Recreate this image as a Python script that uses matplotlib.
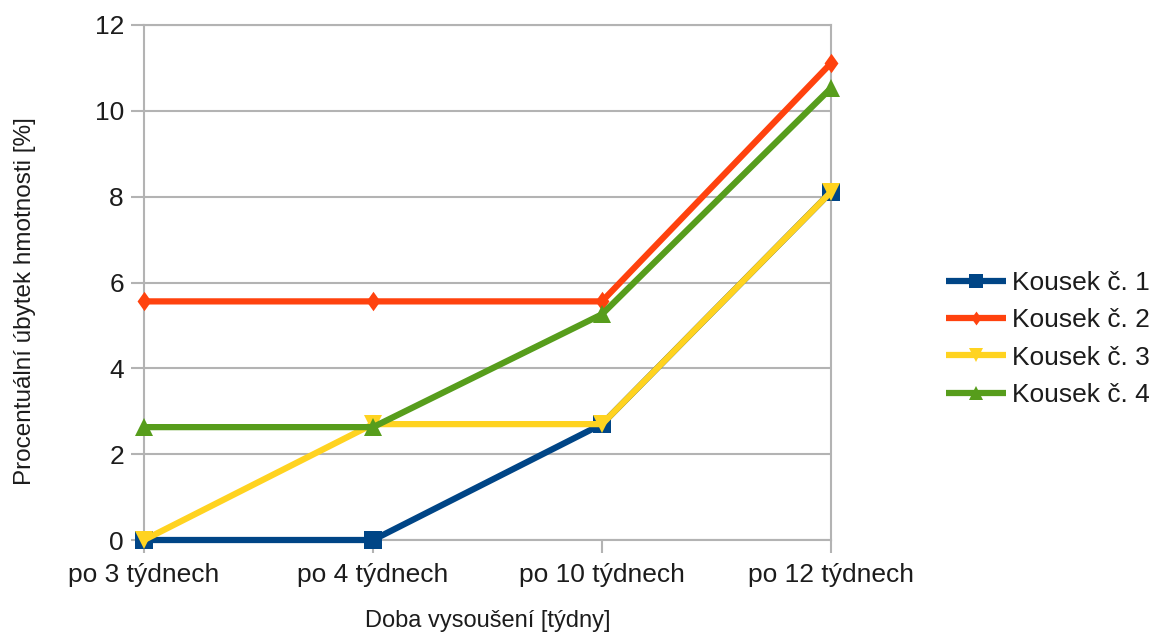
import matplotlib
matplotlib.use("Agg")
import matplotlib.pyplot as plt
import numpy as np

plt.rcParams['font.family'] = ['Liberation Sans', 'DejaVu Sans']

categories = ["po 3 týdnech", "po 4 týdnech", "po 10 týdnech", "po 12 týdnech"]
kousek_1 = [0.0, 0.0, 2.70, 8.11]
kousek_2 = [5.56, 5.56, 5.56, 11.11]
kousek_3 = [0.0, 2.70, 2.70, 8.11]
kousek_4 = [2.63, 2.63, 5.26, 10.53]
series_names = ["Kousek č. 1", "Kousek č. 2", "Kousek č. 3", "Kousek č. 4"]
y_ticks = [0, 2, 4, 6, 8, 10, 12]

colors = ["#004586", "#ff420e", "#ffd320", "#579d1c"]
# tall diamond used by the second series
tall_diamond = [(0, 1.4), (1, 0), (0, -1.4), (-1, 0), (0, 1.4)]
markers = ["s", tall_diamond, "v", "^"]
msizes = [13, 14, 13, 13]

fig = plt.figure(figsize=(11.57, 6.35), dpi=100)
ax = fig.add_axes([144 / 1157, 95 / 635, 687 / 1157, 515 / 635])

x = np.arange(len(categories))
grid_col = "#b3b3b3"
text_col = "#1c1c1c"

for vals, name, c, m, ms in zip([kousek_1, kousek_2, kousek_3, kousek_4],
                                series_names, colors, markers, msizes):
    ax.plot(x, vals, color=c, lw=4.5, marker=m, markersize=ms,
            markeredgewidth=0, label=name, solid_capstyle="butt",
            clip_on=False, zorder=3)

ax.set_xlim(0, len(categories) - 1)
ax.set_ylim(0, 12)
ax.set_yticks(y_ticks)
ax.set_xticks(x)
ax.set_xticklabels(categories)
ax.yaxis.grid(True, color=grid_col, lw=1.5)
ax.set_axisbelow(True)

for side in ["left", "right", "top", "bottom"]:
    ax.spines[side].set_color(grid_col)
    ax.spines[side].set_linewidth(1.5)

ax.tick_params(axis="both", colors=grid_col, width=1.5, length=9.4,
               labelsize=19, labelcolor=text_col)
ax.tick_params(axis="y", pad=5)
ax.tick_params(axis="x", pad=7)

ax.set_xlabel("Doba vysoušení [týdny]", fontsize=17, color=text_col, labelpad=17)
ax.set_ylabel("Procentuální úbytek hmotnosti [%]", fontsize=17.5, color=text_col)
ax.yaxis.set_label_coords(-0.157, 0.464)

leg = fig.legend(loc="center left", bbox_to_anchor=(935 / 1157, 296 / 635),
                 frameon=False, fontsize=19, handlelength=2.3,
                 handletextpad=0.2, labelspacing=0.5, borderaxespad=0)
for t in leg.get_texts():
    t.set_color(text_col)
for h in leg.legend_handles:
    h.set_markersize(10)

fig.savefig("out.png", dpi=100)
